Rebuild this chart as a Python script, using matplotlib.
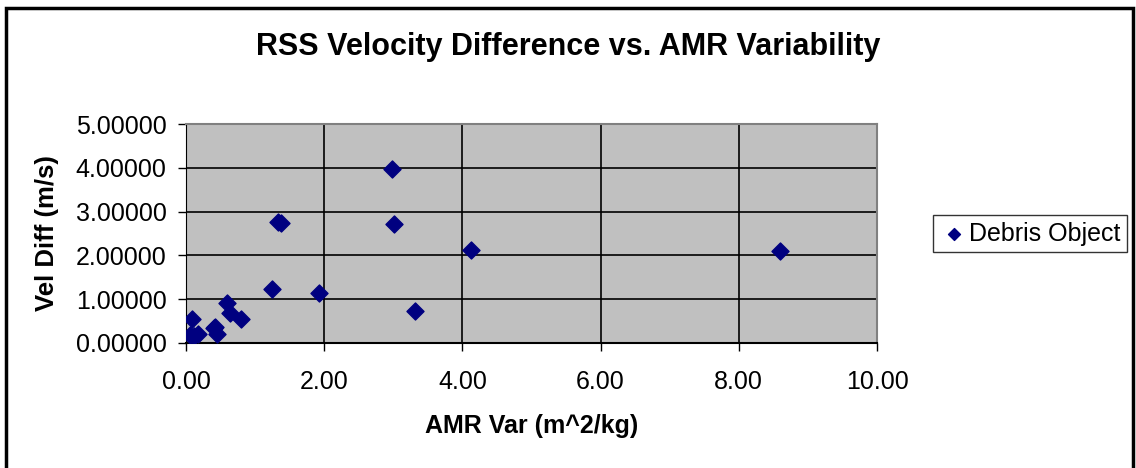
import matplotlib.pyplot as plt
from matplotlib.patches import Rectangle

plt.rcParams['font.family'] = ['Liberation Sans', 'DejaVu Sans']

# debris objects: AMR variability vs RSS velocity difference
amr_var = [0.06, 0.09, 0.11, 0.18, 0.40, 0.42, 0.45, 0.60, 0.63, 0.79,
           1.25, 1.33, 1.37, 1.93, 2.98, 3.01, 3.32, 4.12, 8.60]
vel_diff = [0.18, 0.55, 0.15, 0.21, 0.33, 0.37, 0.19, 0.92, 0.67, 0.54,
            1.22, 2.76, 2.75, 1.13, 3.97, 2.71, 0.72, 2.13, 2.11]

x_ticks = [0, 2, 4, 6, 8, 10]
y_ticks = [0, 1, 2, 3, 4, 5]

fig = plt.figure(figsize=(11.36, 4.68), dpi=100)
ax = fig.add_axes([186 / 1136, 1 - 342.7 / 468, (877 - 186) / 1136, (342.7 - 124.3) / 468])

ax.set_facecolor('#C0C0C0')
ax.scatter(amr_var, vel_diff, marker='D', s=75, color='#000080', zorder=3,
           label='Debris Object')

ax.set_xlim(0, 10)
ax.set_ylim(0, 5)
ax.set_xticks(x_ticks)
ax.set_yticks(y_ticks)
ax.set_xticklabels([f'{v:.2f}' for v in x_ticks])
ax.set_yticklabels([f'{v:.5f}' for v in y_ticks])
ax.grid(color='black', linewidth=1.2)
ax.set_axisbelow(True)
ax.tick_params(labelsize=18, length=6, width=1, direction='out')
ax.tick_params(axis='x', pad=14)
ax.tick_params(axis='y', pad=8)

for side in ['top', 'right']:
    ax.spines[side].set_color('#808080')
    ax.spines[side].set_linewidth(1.5)
ax.spines['left'].set_color('black')
ax.spines['bottom'].set_color('black')
ax.spines['bottom'].set_linewidth(1.5)

ax.set_xlabel('AMR Var (m^2/kg)', fontsize=18, fontweight='bold', labelpad=14)
ax.set_ylabel('Vel Diff (m/s)', fontsize=18.5, fontweight='bold', labelpad=12)
fig.text(0.5, 1 - 47 / 468, 'RSS Velocity Difference vs. AMR Variability',
         ha='center', va='center', fontsize=22, fontweight='bold')

leg = ax.legend(loc='center left', bbox_to_anchor=(933 / 1136, 1 - 233.5 / 468),
                bbox_transform=fig.transFigure, fontsize=18, frameon=True,
                fancybox=False, edgecolor='black', handletextpad=0.0,
                handlelength=1.2, borderpad=0.25, borderaxespad=0,
                markerscale=0.7)
leg.get_frame().set_linewidth(1)

# chart frame
fig.patches.append(Rectangle((5.5 / 1136, -0.05), (1133 - 5.5) / 1136, 1.05 - 8 / 468,
                             transform=fig.transFigure, fill=False,
                             edgecolor='black', linewidth=2.5))

fig.savefig('out.png', dpi=100)
